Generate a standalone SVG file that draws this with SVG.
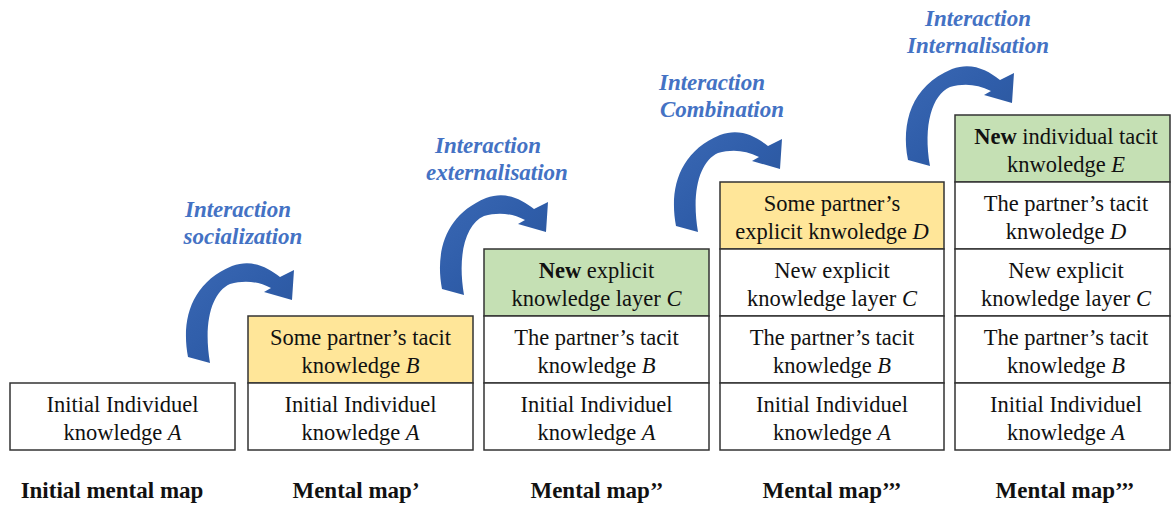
<svg xmlns="http://www.w3.org/2000/svg" width="1171" height="509" viewBox="0 0 1171 509">
<defs>
<linearGradient id="ag" x1="0" y1="0" x2="1" y2="1">
<stop offset="0" stop-color="#3A68B4"/>
<stop offset="0.5" stop-color="#2F5DA9"/>
<stop offset="1" stop-color="#2A5496"/>
</linearGradient>
<path id="arrow" d="M188,357 C181,320 191,283 232,266 C252,259 267,267 280,277 L294,270 L292,300 L264,292 L271,288 C257,281 244,280 230,284 C212,292 203,322 210,363 Z"/>
<style>
.box{stroke:#333;stroke-width:1.5;fill:#fff}
.y{fill:#FFE699}
.g{fill:#C5E0B4}
.t{font-family:"Liberation Serif","Times New Roman",serif;font-size:22.5px;fill:#111;text-anchor:middle}
.lab{font-family:"Liberation Serif","Times New Roman",serif;font-size:23px;font-weight:bold;fill:#111;text-anchor:middle}
.int{font-family:"Liberation Serif","Times New Roman",serif;font-size:23px;font-weight:bold;font-style:italic;fill:#4472C4;text-anchor:middle}
.arr{fill:url(#ag)}
</style>
</defs>
<rect width="1171" height="509" fill="#fff"/>

<g id="connectors">
<use href="#arrow" class="arr"/>
<use href="#arrow" class="arr" transform="translate(254,-68)"/>
<use href="#arrow" class="arr" transform="translate(488,-131)"/>
<use href="#arrow" class="arr" transform="translate(720,-197)"/>
</g>

<g id="interaction-labels">
<text class="int" x="238" y="217">Interaction</text>
<text class="int" x="243" y="244">socialization</text>
<text class="int" x="488" y="153">Interaction</text>
<text class="int" x="497" y="180">externalisation</text>
<text class="int" x="712" y="90">Interaction</text>
<text class="int" x="722" y="117">Combination</text>
<text class="int" x="978" y="26">Interaction</text>
<text class="int" x="978" y="53">Internalisation</text>
</g>

<!-- Column 1 -->
<g id="c1-a">
<rect class="box" x="10" y="383" width="225" height="67"/>
<text class="t" x="122.5" y="412">Initial Individuel</text>
<text class="t" x="122.5" y="440">knowledge <tspan font-style="italic">A</tspan></text>
</g>

<!-- Column 2 -->
<g id="c2-b">
<rect class="box y" x="248" y="316" width="225" height="67"/>
<text class="t" x="360.5" y="345">Some partner’s tacit</text>
<text class="t" x="360.5" y="373">knowledge <tspan font-style="italic">B</tspan></text>
</g>
<g id="c2-a">
<rect class="box" x="248" y="383" width="225" height="67"/>
<text class="t" x="360.5" y="412">Initial Individuel</text>
<text class="t" x="360.5" y="440">knowledge <tspan font-style="italic">A</tspan></text>
</g>

<!-- Column 3 -->
<g id="c3-c">
<rect class="box g" x="484" y="249" width="225" height="67"/>
<text class="t" x="596.5" y="278"><tspan font-weight="bold">New</tspan> explicit</text>
<text class="t" x="596.5" y="306">knowledge layer <tspan font-style="italic">C</tspan></text>
</g>
<g id="c3-b">
<rect class="box" x="484" y="316" width="225" height="67"/>
<text class="t" x="596.5" y="345">The partner’s tacit</text>
<text class="t" x="596.5" y="373">knowledge <tspan font-style="italic">B</tspan></text>
</g>
<g id="c3-a">
<rect class="box" x="484" y="383" width="225" height="67"/>
<text class="t" x="596.5" y="412">Initial Individuel</text>
<text class="t" x="596.5" y="440">knowledge <tspan font-style="italic">A</tspan></text>
</g>

<!-- Column 4 -->
<g id="c4-d">
<rect class="box y" x="720" y="182" width="224" height="67"/>
<text class="t" x="832" y="211">Some partner’s</text>
<text class="t" x="832" y="239">explicit knwoledge <tspan font-style="italic">D</tspan></text>
</g>
<g id="c4-c">
<rect class="box" x="720" y="249" width="224" height="67"/>
<text class="t" x="832" y="278">New explicit</text>
<text class="t" x="832" y="306">knowledge layer <tspan font-style="italic">C</tspan></text>
</g>
<g id="c4-b">
<rect class="box" x="720" y="316" width="224" height="67"/>
<text class="t" x="832" y="345">The partner’s tacit</text>
<text class="t" x="832" y="373">knowledge <tspan font-style="italic">B</tspan></text>
</g>
<g id="c4-a">
<rect class="box" x="720" y="383" width="224" height="67"/>
<text class="t" x="832" y="412">Initial Individuel</text>
<text class="t" x="832" y="440">knowledge <tspan font-style="italic">A</tspan></text>
</g>

<!-- Column 5 -->
<g id="c5-e">
<rect class="box g" x="955" y="115" width="215" height="67"/>
<text class="t" x="1066" y="144"><tspan font-weight="bold">New</tspan> individual tacit</text>
<text class="t" x="1066" y="172">knwoledge <tspan font-style="italic">E</tspan></text>
</g>
<g id="c5-d">
<rect class="box" x="955" y="182" width="215" height="67"/>
<text class="t" x="1066" y="211">The partner’s tacit</text>
<text class="t" x="1066" y="239">knwoledge <tspan font-style="italic">D</tspan></text>
</g>
<g id="c5-c">
<rect class="box" x="955" y="249" width="215" height="67"/>
<text class="t" x="1066" y="278">New explicit</text>
<text class="t" x="1066" y="306">knowledge layer <tspan font-style="italic">C</tspan></text>
</g>
<g id="c5-b">
<rect class="box" x="955" y="316" width="215" height="67"/>
<text class="t" x="1066" y="345">The partner’s tacit</text>
<text class="t" x="1066" y="373">knowledge <tspan font-style="italic">B</tspan></text>
</g>
<g id="c5-a">
<rect class="box" x="955" y="383" width="215" height="67"/>
<text class="t" x="1066" y="412">Initial Individuel</text>
<text class="t" x="1066" y="440">knowledge <tspan font-style="italic">A</tspan></text>
</g>

<g id="map-labels">
<text class="lab" x="112" y="498">Initial mental map</text>
<text class="lab" x="356" y="498">Mental map’</text>
<text class="lab" x="597" y="498">Mental map’’</text>
<text class="lab" x="832" y="498">Mental map’’’</text>
<text class="lab" x="1065" y="498">Mental map’’’</text>
</g>
</svg>
